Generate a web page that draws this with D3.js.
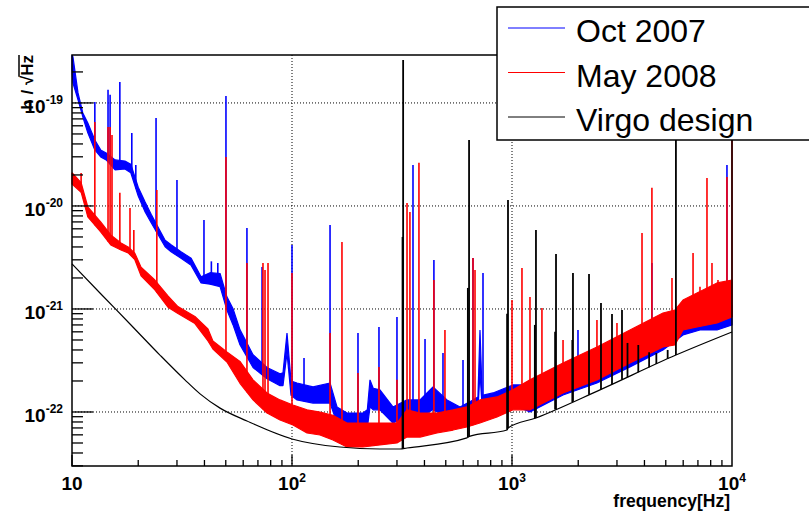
<!DOCTYPE html>
<html><head><meta charset="utf-8">
<script src="https://cdn.jsdelivr.net/npm/d3@7"></script>
<style>body{margin:0;background:#fff}svg{display:block}</style>
</head><body><svg id="c" width="809" height="511"></svg>
<script>
// ---------------- data ----------------
const xDomain = [10, 1e4];
const yDomain = [2.99e-23, 2.92e-19];
const xTickLabels = [[10, ""], [100, "2"], [1000, "3"], [10000, "4"]];
const yTickLabels = [[1e-19, "-19"], [1e-20, "-20"], [1e-21, "-21"], [1e-22, "-22"]];
const seriesNames = ["Oct 2007", "May 2008", "Virgo design"];
const xTitle = "frequency[Hz]";

// noise band of each measured spectrum: [frequency Hz, lower h, upper h]
const octBand = [
 [10,2.09e-19,2.92e-19],[10.1,1.56e-19,2.8e-19],[10.65,1.07e-19,1.25e-19],[11.2,7.31e-20,8.0e-20],
 [11.8,5.12e-20,6.4e-20],[12.7,3.5e-20,4.37e-20],[13.5,2.99e-20,3.5e-20],[14.3,2.8e-20,3.27e-20],
 [15.7,2.24e-20,2.8e-20],[17.4,2.29e-20,2.73e-20],[18.5,2.1e-20,2.54e-20],[20.0,1.25e-20,1.52e-20],
 [21.5,8.74e-21,1.09e-20],[22.9,6.87e-21,8.31e-21],[26.5,4.02e-21,4.65e-21],[28.2,3.6e-21,4.2e-21],
 [31.3,3.1e-21,3.6e-21],[34.8,2.65e-21,3.1e-21],[38.6,1.79e-21,2.05e-21],[42.4,1.74e-21,2.25e-21],
 [47.1,1.65e-21,2.21e-21],[50.6,9.77e-22,1.31e-21],[53.9,7.04e-22,1.01e-21],[58.0,4.5e-22,6.3e-22],
 [66.5,2.7e-22,3.6e-22],[77.0,2.1e-22,2.7e-22],[88.2,1.8e-22,2.35e-22],[91,1.8e-22,2.4e-22],
 [94.9,3.74e-22,5.85e-22],[99,1.45e-22,2.0e-22],[105.4,1.31e-22,1.91e-22],[124.6,1.22e-22,1.75e-22],
 [148.9,1.22e-22,1.91e-22],[160.2,7.82e-23,1.12e-22],[177.8,6.68e-23,9.77e-23],[210.2,6.68e-23,9.77e-23],
 [220,7.0e-23,1.05e-22],[226.2,1.12e-22,2.05e-22],[234,1.05e-22,1.7e-22],[251,1.05e-22,1.64e-22],
 [287.7,7.82e-23,1.12e-22],[333.3,8.93e-23,1.31e-22],[381.7,8.93e-23,1.31e-22],[437.5,1.05e-22,1.75e-22],
 [506.5,8.93e-23,1.31e-22],[580.3,8.36e-23,1.12e-22],[664.8,9.77e-23,1.31e-22],[700,1.05e-22,1.4e-22],
 [715.3,2.39e-22,6.25e-22],[732,1.1e-22,1.45e-22],[819.7,1.22e-22,1.53e-22],[1010,1.17e-22,1.83e-22],
 [1207,1.0e-22,1.83e-22],[1706,1.46e-22,2.56e-22],[2433,1.91e-22,3.57e-22],[3437,2.74e-22,5.0e-22],
 [4856,4.0e-22,7.0e-22],[5988,5.6e-22,8.75e-22],[7153,6.25e-22,9.77e-22],[8550,6.25e-22,9.14e-22],
 [10000,7.0e-22,1.09e-21]
];
const octSpikes = [
 [12.7,1.02e-19],[14.58,1.34e-19],[14.9,1.2e-19],[16.5,1.6e-19],[18.7,5.12e-20],[19.5,2.5e-20],
 [24.1,7.15e-20],[30.0,1.79e-20],[39.8,7.31e-21],[43,2.9e-21],[46,2.8e-21],[50.1,1.17e-19],
 [62.4,6.11e-21],[73.1,2.56e-21],[100,4.18e-21],[113.4,3.34e-22],[148.9,6.54e-21],[199.5,5.85e-22],
 [248.5,6.68e-22],[300,8.36e-22],[354.8,2.5e-20],[402.4,5.12e-22],[441.6,2.99e-21],[485.6,3.74e-22],
 [598.8,3.2e-22],[664.8,3.13e-21],[738.2,2.24e-21],[1995,6.25e-22],[4325,2.8e-21],[4467,8.36e-22],
 [9486,2.5e-20]
];
const mayBand = [
 [10,1.63e-20,2.1e-20],[11.0,1.36e-20,1.68e-20],[11.8,7.82e-21,9.77e-21],[13.5,5.59e-21,6.99e-21],
 [15.0,4.19e-21,5.23e-21],[16.7,3.74e-21,4.37e-21],[18.0,3.5e-21,4.0e-21],[19.3,3.01e-21,3.48e-21],
 [20.6,2.1e-21,2.54e-21],[23.8,1.53e-21,1.91e-21],[27.3,1.04e-21,1.34e-21],[30.3,9.03e-22,1.055e-21],
 [36.2,7.22e-22,8.45e-22],[41.5,4.89e-22,6.39e-22],[43.7,4.09e-22,4.89e-22],[50.6,3.06e-22,3.83e-22],
 [58.0,1.9e-22,3.1e-22],[66.5,1.31e-22,2.05e-22],[77.0,9.77e-23,1.53e-22],[88.2,8.36e-23,1.31e-22],
 [101,7.48e-23,1.17e-22],[117,6.25e-23,1.05e-22],[134,5.98e-23,1.0e-22],[153.5,5.35e-23,9.3e-23],
 [177.8,4.57e-23,7.82e-23],[210,4.57e-23,7.82e-23],[251,4.79e-23,7.82e-23],[300,5.0e-23,7.82e-23],
 [333,5.71e-23,1.05e-22],[382,5.71e-23,9.77e-23],[456,6.25e-23,9.77e-23],[540,6.68e-23,1.05e-22],
 [624,7.15e-23,1.12e-22],[715,7.82e-23,1.31e-22],[855,8.93e-23,1.40e-22],[1010,1.05e-22,1.64e-22],
 [1207,1.05e-22,2.05e-22],[1706,1.53e-22,2.99e-22],[2433,2.05e-22,4.28e-22],[3437,2.99e-22,6.25e-22],
 [4856,4.28e-22,9.14e-22],[5500,4.47e-22,9.77e-22],[5988,6.25e-22,1.22e-21],[6934,6.68e-22,1.43e-21],
 [8550,7.31e-22,1.79e-21],[10000,8.36e-22,1.91e-21]
];
const maySpikes = [
 [11.0,2.09e-20],[12.7,6.54e-20],[14.58,5.85e-20],[14.9,5.85e-20],[15.2,4.89e-20],[16.5,1.34e-20],
 [18.35,9.57e-21],[19.1,5.85e-21],[24.3,1.43e-20],[50.1,2.99e-20],[62.4,2.8e-21],[73.8,2.8e-21],
 [75.4,2.39e-21],[77.8,2.8e-21],[100,2.24e-21],[148.9,5.85e-22],[168.7,4.47e-21],[199.5,2.39e-22],
 [248.5,2.74e-22],[300,2.05e-22],[333.3,1.07e-20],[343.6,8.75e-21],[377.6,2.62e-20],[441.6,1.91e-21],
 [495.7,6.25e-22],[664.8,3.13e-21],[679,2.39e-21],[1000,1.22e-21],[1110,2.5e-21],[1207,1.31e-21],
 [1368,1.02e-21],[1706,5.0e-22],[2433,7.82e-22],[3000,7.31e-22],[3899,5.47e-21],[4325,1.5e-20],
 [5336,2.0e-21],[6652,3.5e-21],[7153,1.64e-21],[7696,1.87e-20],[8110,2.8e-21],[8636,1.91e-21],
 [9486,1.91e-20],[10000,5.47e-20]
];
// Virgo design sensitivity: [frequency Hz, h]
const designCurve = [
 [10,2.74e-21],[13.4,1.43e-21],[18.35,7.15e-22],[25.1,3.57e-22],[32.6,2.05e-22],[38.2,1.5e-22],
 [47.1,1.09e-22],[62.4,8.18e-23],[100,5.47e-23],[165,4.57e-23],[251,4.37e-23],[310,4.37e-23],
 [333,4.47e-23],[624,5.6e-23],[640,5.8e-23],[949,6.68e-23],[960,7.0e-23],[1285,8.75e-23],
 [2512,1.64e-22],[5560,3.57e-22],[10000,5.98e-22]
];
const designSpikes = [
 [320,2.61e-19],[318,5.0e-21],[638,4.37e-20],[630,1.6e-21],[959,1.14e-20],[950,9e-22],
 [1285,5.85e-21],[1270,7e-22],[1585,3.42e-21],[1570,6e-22],[1893,2.24e-21],[1880,5e-22],
 [2239,2.19e-21],[2538,1.14e-21],[2848,8.93e-22],[3162,9.77e-22],[3350,4.68e-22],[3750,4.47e-22],
 [4200,3.8e-22],[4530,3.74e-22],[5100,4.0e-22],[5560,6.84e-20]
];

// ---------------- drawing ----------------
const svg = d3.select("#c");
const L = 72, R = 732, T = 55, B = 466;
const x = d3.scaleLog().domain(xDomain).range([L, R]);
const y = d3.scaleLog().domain(yDomain).range([B, T]);
const FONT = "'Liberation Sans', Arial, Helvetica, sans-serif";
const BLUE = "#0000ff", RED = "#ff0000";

function atF(arr, f, col) {
  const lf = Math.log(f);
  for (let i = 0; i < arr.length - 1; i++) {
    if (f >= arr[i][0] && f <= arr[i + 1][0]) {
      const t = (lf - Math.log(arr[i][0])) / (Math.log(arr[i + 1][0]) - Math.log(arr[i][0]));
      return Math.exp(Math.log(arr[i][col]) + t * (Math.log(arr[i + 1][col]) - Math.log(arr[i][col])));
    }
  }
  return arr[arr.length - 1][col];
}

svg.append("defs").append("clipPath").attr("id", "clip")
  .append("rect").attr("x", L - 1).attr("y", T).attr("width", R - L + 3).attr("height", B - T);

// grid
const grid = svg.append("g").attr("stroke", "#000").attr("stroke-width", 1).attr("stroke-dasharray", "1,2");
[100, 1000].forEach(v => grid.append("line").attr("x1", x(v)).attr("x2", x(v)).attr("y1", T).attr("y2", B));
yTickLabels.forEach(([v]) => grid.append("line").attr("x1", L).attr("x2", R).attr("y1", y(v)).attr("y2", y(v)));

// data
const plot = svg.append("g").attr("clip-path", "url(#clip)");
const area = d3.area().x(d => x(d[0])).y0(d => y(d[1])).y1(d => y(d[2]));

function drawMeasured(band, spikes, color) {
  plot.append("path").datum(band).attr("d", area)
    .attr("fill", color).attr("stroke", color).attr("stroke-width", 1.2).attr("stroke-linejoin", "bevel");
  plot.append("g").selectAll("line").data(spikes).join("line")
    .attr("x1", d => x(d[0])).attr("x2", d => x(d[0]))
    .attr("y1", d => y(atF(band, d[0], 1))).attr("y2", d => y(d[1]))
    .attr("stroke", color).attr("stroke-width", 1.6);
}
drawMeasured(octBand, octSpikes, BLUE);
drawMeasured(mayBand, maySpikes, RED);

plot.append("path").datum(designCurve)
  .attr("d", d3.line().x(d => x(d[0])).y(d => y(d[1])).curve(d3.curveMonotoneX))
  .attr("fill", "none").attr("stroke", "#000").attr("stroke-width", 1.2);
plot.append("g").selectAll("line").data(designSpikes).join("line")
  .attr("x1", d => x(d[0])).attr("x2", d => x(d[0]))
  .attr("y1", d => y(atF(designCurve, d[0], 1))).attr("y2", d => y(d[1]))
  .attr("stroke", "#000").attr("stroke-width", 1.8);

// frame
svg.append("rect").attr("x", L).attr("y", T).attr("width", R - L).attr("height", B - T)
  .attr("fill", "none").attr("stroke", "#000").attr("stroke-width", 1.5);

// ticks
const ticks = svg.append("g").attr("stroke", "#000").attr("stroke-width", 1.3);
for (let e = 1; e <= 3; e++) for (let k = 1; k <= 9; k++) {
  const v = k * Math.pow(10, e);
  const len = k === 1 ? 11 : 6;
  ticks.append("line").attr("x1", x(v)).attr("x2", x(v)).attr("y1", B).attr("y2", B - len);
}
for (let e = -23; e <= -19; e++) for (let k = 1; k <= 9; k++) {
  const v = k * Math.pow(10, e);
  if (v < yDomain[0] || v > yDomain[1]) continue;
  const len = k === 1 ? 21 : 11;
  ticks.append("line").attr("x1", L).attr("x2", L + len).attr("y1", y(v)).attr("y2", y(v));
}

// tick labels
const lab = svg.append("g").attr("font-family", FONT).attr("font-weight", "bold").attr("fill", "#000");
yTickLabels.forEach(([v, ex]) => {
  const t = lab.append("text").attr("x", 63).attr("y", y(v) + 10).attr("text-anchor", "end");
  t.append("tspan").attr("font-size", 19).text("10");
  t.append("tspan").attr("font-size", 12).attr("dy", -9).text(ex);
});
xTickLabels.forEach(([v, ex]) => {
  const t = lab.append("text").attr("x", x(v)).attr("y", 490).attr("text-anchor", "middle");
  t.append("tspan").attr("font-size", 19).text("10");
  if (ex) t.append("tspan").attr("font-size", 12).attr("dy", -8).text(ex);
});
lab.append("text").attr("x", 730).attr("y", 507).attr("text-anchor", "end")
  .attr("font-size", 17.5).text(xTitle);

// y title  h / sqrt(Hz)
const yt = svg.append("g").attr("transform", "translate(33,55) rotate(-90)");
const ytt = yt.append("text").attr("font-family", FONT).attr("font-weight", "bold")
  .attr("font-size", 17).attr("text-anchor", "end").attr("x", 0).attr("y", 0);
ytt.text("h / \u221AHz");
const full = ytt.node().getComputedTextLength();
const pre = ytt.node().getSubStringLength(0, 5);
yt.append("line").attr("x1", -full + pre - 1).attr("x2", 0).attr("y1", -14).attr("y2", -14)
  .attr("stroke", "#000").attr("stroke-width", 1.5);

// legend
const lg = svg.append("g");
lg.append("rect").attr("x", 497).attr("y", 7).attr("width", 330).attr("height", 133)
  .attr("fill", "#fff").attr("stroke", "#000").attr("stroke-width", 1.5);
const lcol = [BLUE, RED, "#000"];
seriesNames.forEach((n, i) => {
  const ly = 28 + i * 44.5;
  lg.append("line").attr("x1", 508).attr("x2", 565).attr("y1", ly).attr("y2", ly)
    .attr("stroke", lcol[i]).attr("stroke-width", 1);
  lg.append("text").attr("x", 576).attr("y", ly + 14).attr("font-family", FONT)
    .attr("font-size", 32).attr("fill", "#000").text(n);
});
</script></body></html>
